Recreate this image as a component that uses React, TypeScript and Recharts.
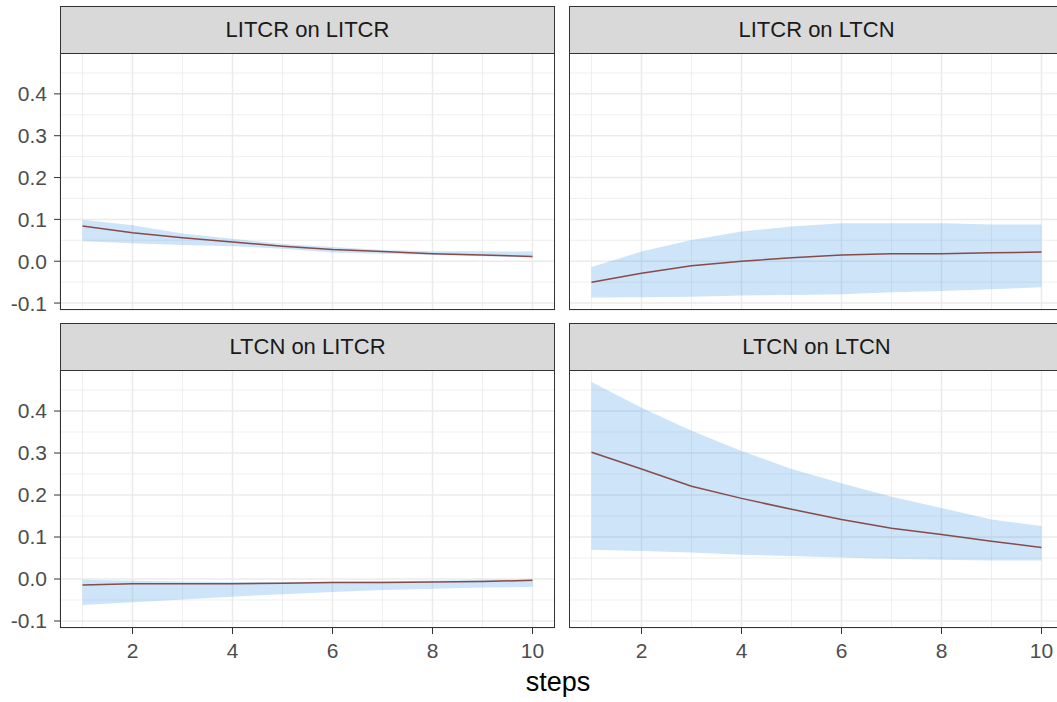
import React from "react";
import {
  Area,
  CartesianGrid,
  ComposedChart,
  Line,
  XAxis,
  YAxis,
} from "recharts";

const steps = [1, 2, 3, 4, 5, 6, 7, 8, 9, 10];

const panelTitles = [
  "LITCR on LITCR",
  "LITCR on LTCN",
  "LTCN on LITCR",
  "LTCN on LTCN",
];

// LITCR on LITCR
const mid1 = [0.084, 0.068, 0.056, 0.046, 0.036, 0.028, 0.023, 0.018, 0.015, 0.011];
const lo1 = [0.048, 0.043, 0.039, 0.036, 0.03, 0.021, 0.018, 0.015, 0.012, 0.009];
const hi1 = [0.099, 0.086, 0.066, 0.054, 0.041, 0.034, 0.027, 0.024, 0.024, 0.023];

// LITCR on LTCN
const mid2 = [-0.05, -0.029, -0.011, 0.0, 0.008, 0.015, 0.018, 0.018, 0.02, 0.022];
const lo2 = [-0.087, -0.086, -0.085, -0.082, -0.081, -0.079, -0.074, -0.071, -0.067, -0.062];
const hi2 = [-0.014, 0.023, 0.051, 0.071, 0.083, 0.091, 0.091, 0.091, 0.088, 0.088];

// LTCN on LITCR
const mid3 = [-0.0145, -0.011, -0.011, -0.011, -0.01, -0.008, -0.008, -0.007, -0.006, -0.003];
const lo3 = [-0.062, -0.055, -0.049, -0.042, -0.036, -0.031, -0.026, -0.023, -0.02, -0.019];
const hi3 = [-0.002, -0.004, -0.006, -0.007, -0.007, -0.006, -0.005, -0.004, -0.002, -0.001];

// LTCN on LTCN
const mid4 = [0.302, 0.262, 0.221, 0.192, 0.166, 0.142, 0.121, 0.106, 0.09, 0.075];
const lo4 = [0.07, 0.067, 0.063, 0.058, 0.055, 0.051, 0.048, 0.046, 0.044, 0.044];
const hi4 = [0.469, 0.408, 0.353, 0.305, 0.262, 0.228, 0.196, 0.169, 0.142, 0.126];

const xTicks = [2, 4, 6, 8, 10];
const xMinor = [1, 3, 5, 7, 9];
const yTicks = [-0.1, 0, 0.1, 0.2, 0.3, 0.4];
const yMinor = [-0.05, 0.05, 0.15, 0.25, 0.35, 0.45];

const X_DOMAIN: [number, number] = [0.55, 10.45];
const Y_DOMAIN: [number, number] = [-0.1166, 0.4977];

const FONT = "'Liberation Sans', Arial, sans-serif";

function build(mid: number[], lo: number[], hi: number[]) {
  return steps.map((s, i) => ({ step: s, mid: mid[i], band: [lo[i], hi[i]] }));
}

const panels = [
  { title: panelTitles[0], data: build(mid1, lo1, hi1), left: true, bottom: false },
  { title: panelTitles[1], data: build(mid2, lo2, hi2), left: false, bottom: false },
  { title: panelTitles[2], data: build(mid3, lo3, hi3), left: true, bottom: true },
  { title: panelTitles[3], data: build(mid4, lo4, hi4), left: false, bottom: true },
];

const PW = 495;
const STRIP = 47;
const AXIS_W = 60;
const AXIS_H = 45;

function Panel({ p, x, y, h }: { p: (typeof panels)[number]; x: number; y: number; h: number }) {
  const chartLeft = p.left ? x - AXIS_W : x;
  const chartW = p.left ? PW + AXIS_W : PW;
  const chartH = p.bottom ? h + AXIS_H : h + 12;
  return (
    <>
      <div
        style={{
          position: "absolute",
          left: x,
          top: y - STRIP,
          width: PW,
          height: STRIP + 1,
          boxSizing: "border-box",
          background: "#D9D9D9",
          border: "1px solid #333333",
          display: "flex",
          alignItems: "center",
          justifyContent: "center",
          fontFamily: FONT,
          fontSize: 22,
          color: "#1A1A1A",
        }}
      >
        {p.title}
      </div>
      <div style={{ position: "absolute", left: chartLeft, top: y }}>
        <ComposedChart
          width={chartW}
          height={chartH}
          data={p.data}
          margin={{ top: 0, right: 0, bottom: p.bottom ? 0 : 12, left: 0 }}
        >
          <CartesianGrid
            stroke="#EBEBEB"
            strokeWidth={0.8}
            horizontalValues={yMinor}
            verticalValues={xMinor}
          />
          <CartesianGrid stroke="#EBEBEB" strokeWidth={1.5} />
          <XAxis
            dataKey="step"
            type="number"
            domain={X_DOMAIN}
            ticks={xTicks}
            interval={0}
            allowDataOverflow
            hide={!p.bottom}
            height={AXIS_H}
            axisLine={false}
            tickSize={6}
            tickMargin={9}
            tickLine={{ stroke: "#333333" }}
            tick={{ fill: "#4D4D4D", fontSize: 21, fontFamily: FONT }}
          />
          <YAxis
            type="number"
            domain={Y_DOMAIN}
            ticks={yTicks}
            interval={0}
            allowDataOverflow
            hide={!p.left}
            width={AXIS_W}
            axisLine={false}
            tickSize={6}
            tickMargin={7}
            tickLine={{ stroke: "#333333" }}
            tick={{ fill: "#4D4D4D", fontSize: 21, fontFamily: FONT }}
            tickFormatter={(v: number) => v.toFixed(1)}
          />
          <Area
            type="linear"
            dataKey="band"
            stroke="none"
            fill="#2E8FE6"
            fillOpacity={0.24}
            isAnimationActive={false}
          />
          <Line
            type="linear"
            dataKey="mid"
            stroke="#874B48"
            strokeWidth={1.5}
            dot={false}
            activeDot={false}
            isAnimationActive={false}
          />
        </ComposedChart>
      </div>
      <div
        style={{
          position: "absolute",
          left: x,
          top: y,
          width: PW,
          height: h,
          boxSizing: "border-box",
          border: "1px solid #333333",
          pointerEvents: "none",
        }}
      />
    </>
  );
}

export default function App() {
  return (
    <div
      style={{
        position: "fixed",
        left: 0,
        top: 0,
        width: 1057,
        height: 702,
        overflow: "hidden",
        background: "#FFFFFF",
      }}
    >
      <Panel p={panels[0]} x={60} y={53} h={257} />
      <Panel p={panels[1]} x={569} y={53} h={257} />
      <Panel p={panels[2]} x={60} y={370} h={258} />
      <Panel p={panels[3]} x={569} y={370} h={258} />
      <div
        style={{
          position: "absolute",
          left: 478,
          width: 160,
          top: 669,
          textAlign: "center",
          fontFamily: FONT,
          fontSize: 27,
          lineHeight: "27px",
          color: "#000000",
        }}
      >
        steps
      </div>
    </div>
  );
}
